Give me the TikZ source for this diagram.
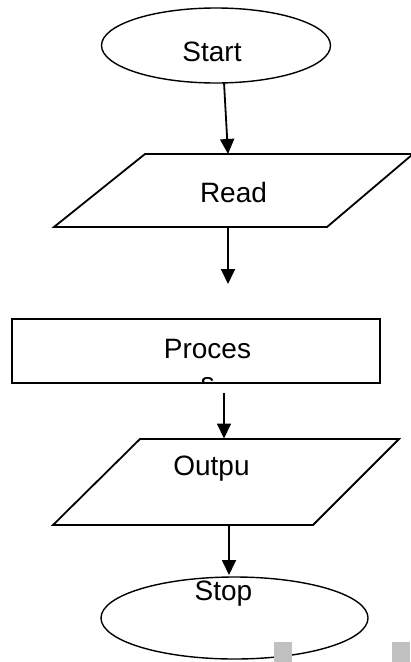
\documentclass[tikz,border=0pt]{standalone}
\usepackage{fontspec}
\setmainfont{Liberation Sans}
\usetikzlibrary{shapes.geometric,arrows.meta}
\definecolor{sq}{HTML}{C0C0C0}
\begin{document}
\begin{tikzpicture}[x=1pt,y=-1pt,
  outline/.style={draw=black,line width=1.8pt,line join=miter},
  oval/.style={ellipse,draw=black,line width=1.4pt,inner sep=0pt},
  lbl/.style={font=\fontsize{28}{34}\selectfont,anchor=base,inner sep=0pt},
  flow/.style={draw=black,line width=1.8pt,-{Triangle[width=14pt,length=15pt]}},
  marker/.style={fill=sq,draw=none}]
\useasboundingbox (0,0) rectangle (411,662);

% terminals
\node[oval,minimum width=229pt,minimum height=75pt] (start) at (216,45.5) {};
\node[oval,minimum width=267pt,minimum height=82pt] (stop) at (234.5,618) {};

% input / output parallelograms
\draw[outline] (54,227) -- (145,154) -- (413,154) -- (327,227) -- cycle;
\draw[outline] (53,525) -- (140,439) -- (399,439) -- (313,525) -- cycle;

% process box with its clipped label
\node[draw=black,line width=1.8pt,minimum width=368pt,minimum height=64pt,inner sep=0pt] (proc) at (196,351) {};
\begin{scope}
  \clip (12,319) rectangle (380,383);
  \node[lbl] (procA) at (207.5,358) {Proces};
  \node[lbl] (procB) at (207.5,392) {s};
\end{scope}

% labels
\node[lbl] (startText) at (212,61) {Start};
\node[lbl] (readText) at (233.5,202) {Read};
\node[lbl] (outText) at (211.5,475) {Outpu};
\node[lbl] (stopText) at (223.5,600.5) {Stop};

% connector end points
\coordinate (a1s) at (224,82.5);
\coordinate (a1e) at (228,154);
\coordinate (a2s) at (228,227);
\coordinate (a2e) at (228,284);
\coordinate (a3s) at (224,393);
\coordinate (a3e) at (224,438.5);
\coordinate (a4s) at (229,525);
\coordinate (a4e) at (229,575);

\draw[flow] (a1s) -- (a1e);
\draw[flow] (a2s) -- (a2e);
\draw[flow] (a3s) -- (a3e);
\draw[flow] (a4s) -- (a4e);

% grey squares along the bottom edge
\fill[marker] (274,642) rectangle (292,662);
\fill[marker] (392,642) rectangle (410,662);
\end{tikzpicture}
\end{document}
